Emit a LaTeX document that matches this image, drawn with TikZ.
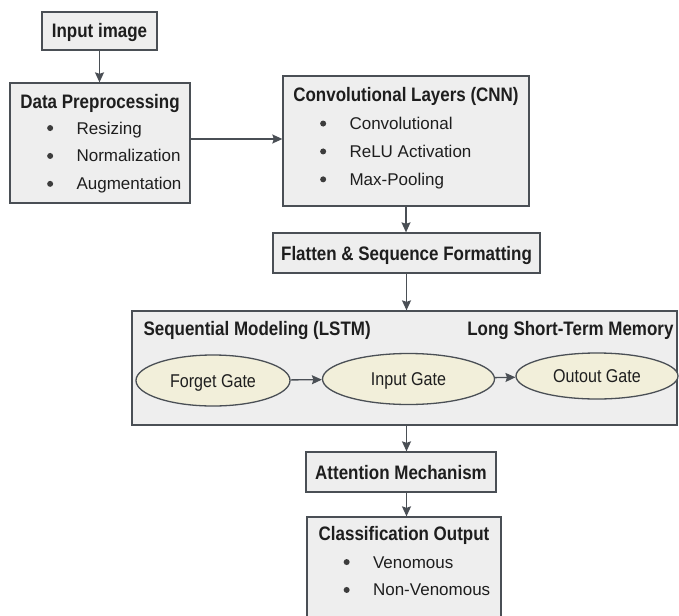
\documentclass[tikz,border=0pt]{standalone}
\usepackage{fontspec}
\setmainfont{Liberation Sans}
\newfontfamily\condfont[FakeStretch=0.87]{Liberation Sans}
\usetikzlibrary{shapes.geometric, arrows.meta, positioning, math, calc}

\definecolor{boxFill}{HTML}{EEEEEE}
\definecolor{gateFill}{HTML}{F2EFDA}
\definecolor{lineCol}{HTML}{4A4F55}
\definecolor{textCol}{HTML}{1E1E1E}
\definecolor{dotCol}{HTML}{3C3C3C}

\newcommand{\titleFont}{\condfont\bfseries\fontsize{19.5}{22}\selectfont}
\newcommand{\gateFont}{\condfont\fontsize{18.5}{21}\selectfont}
\newcommand{\itemFont}{\fontsize{17}{20}\selectfont}

\begin{document}
\begin{tikzpicture}[x=1pt, y=-1pt]
		\tikzmath{
			\lineW   = 1.3;  %border width
			\itemGap = 15.5; %gap between two bullet lines
			\dotGap  = 23;   %bullet to text
		}
		\tikzstyle{Base} = [
			draw=lineCol,
			line width=\lineW pt,
			inner sep=0pt,
			text=textCol
		]
		\tikzstyle{Box} = [
			Base,
			fill=boxFill,
			font=\titleFont,
			text height=14pt,
			text depth=0pt
		]
		\tikzstyle{Gate} = [
			Base,
			ellipse,
			fill=gateFill,
			font=\gateFont,
			text height=13pt,
			text depth=0pt
		]
		\tikzstyle{Title} = [
			inner sep=0pt,
			text=textCol,
			font=\titleFont,
			text height=14pt,
			text depth=0pt
		]
		\tikzstyle{Item} = [
			inner sep=0pt,
			text=textCol,
			font=\itemFont,
			text height=12pt,
			text depth=0pt
		]
		\tikzstyle{Dot} = [
			circle,
			fill=dotCol,
			minimum size=6pt,
			inner sep=0pt
		]
		\tikzstyle{Arrow} = [
			-{Stealth[length=10pt, width=9pt, inset=1.5pt]},
			draw=lineCol,
			line width=\lineW pt
		]

		\useasboundingbox (0,0) rectangle (679,615);
		\clip (0,0) rectangle (679,615);
		\fill [white] (0,0) rectangle (679,615);

		%%%%%%%%%%%%%%%%%%%%%%%%%%===---INPUT---===%%%%%%%%%%%%%%%%%%%%%%%%%%
		\node (in) [Box, minimum width=115pt, minimum height=38pt] at (99.5,31) {Input image};
		%%%%%%%%%%%%%%%%%%%%%%%%%%===---PREPROCESSING---===%%%%%%%%%%%%%%%%%%%%%%%%%%
		\node (prep) [Box, minimum width=180pt, minimum height=120pt] at (100,143) {};
			\node (prepT) [Title, below = 12pt of prep.north] {Data Preprocessing};
			\node (prep1) [Item, anchor=north west] at ($(prep.north west)+(67,39.5)$) {Resizing};
			\node (prep2) [Item, below = \itemGap pt of prep1.south west, anchor=north west] {Normalization};
			\node (prep3) [Item, below = \itemGap pt of prep2.south west, anchor=north west] {Augmentation};
			\node (prep1d) [Dot, left = \dotGap pt of prep1] {};
			\node (prep2d) [Dot, left = \dotGap pt of prep2] {};
			\node (prep3d) [Dot, left = \dotGap pt of prep3] {};
		\draw [Arrow] (in.south) -- (in.south |- prep.north);
		%%%%%%%%%%%%%%%%%%%%%%%%%%===---CNN---===%%%%%%%%%%%%%%%%%%%%%%%%%%
		\node (cnn) [Box, minimum width=246pt, minimum height=130pt] at (406,141) {};
			\node (cnnT) [Title, below = 12pt of cnn.north] {Convolutional Layers (CNN)};
			\node (cnn1) [Item, anchor=north west] at ($(cnn.north west)+(67,42)$) {Convolutional};
			\node (cnn2) [Item, below = \itemGap pt of cnn1.south west, anchor=north west] {ReLU Activation};
			\node (cnn3) [Item, below = \itemGap pt of cnn2.south west, anchor=north west] {Max-Pooling};
			\node (cnn1d) [Dot, left = \dotGap pt of cnn1] {};
			\node (cnn2d) [Dot, left = \dotGap pt of cnn2] {};
			\node (cnn3d) [Dot, left = \dotGap pt of cnn3] {};
		\draw [Arrow] ([yshift=4pt]prep.east) -- ([yshift=4pt]prep.east -| cnn.west);
		%%%%%%%%%%%%%%%%%%%%%%%%%%===---FLATTEN---===%%%%%%%%%%%%%%%%%%%%%%%%%%
		\node (flat) [Box, minimum width=267pt, minimum height=40pt] at (406.5,253) {Flatten \& Sequence Formatting};
		\draw [Arrow] (cnn.south) -- (cnn.south |- flat.north);
		%%%%%%%%%%%%%%%%%%%%%%%%%%===---LSTM---===%%%%%%%%%%%%%%%%%%%%%%%%%%
		\node (lstm) [Box, minimum width=545pt, minimum height=114pt] at (404.5,368) {};
			\node (lstmT) [Title, anchor=north west] at ($(lstm.north west)+(12,11)$) {Sequential Modeling (LSTM)};
			\node (lstmM) [Title, anchor=north east] at ($(lstm.north east)+(-4,11)$) {Long Short-Term Memory};
			\node (forget) [Gate, minimum width=154pt, minimum height=51pt] at (213,380.5) {Forget Gate};
			\node (input) [Gate, minimum width=172pt, minimum height=51pt] at (408.5,379) {Input Gate};
			\node (outout) [Gate, minimum width=162pt, minimum height=46pt] at (597,376) {Outout Gate};
		\draw [Arrow] (forget) -- (input);
		\draw [Arrow] (input) -- (outout);
		\draw [Arrow] (flat.south) -- (flat.south |- lstm.north);
		%%%%%%%%%%%%%%%%%%%%%%%%%%===---ATTENTION---===%%%%%%%%%%%%%%%%%%%%%%%%%%
		\node (att) [Box, minimum width=190pt, minimum height=40pt] at (401,472) {Attention Mechanism};
		\draw [Arrow] (lstm.south -| flat.south) -- (flat.south |- att.north);
		%%%%%%%%%%%%%%%%%%%%%%%%%%===---OUTPUT---===%%%%%%%%%%%%%%%%%%%%%%%%%%
		\node (cls) [Box, minimum width=194pt, minimum height=108pt] at (404,571) {};
			\node (clsT) [Title, below = 10pt of cls.north] {Classification Output};
			\node (cls1) [Item, anchor=north west] at ($(cls.north west)+(66.5,39.5)$) {Venomous};
			\node (cls2) [Item, below = \itemGap pt of cls1.south west, anchor=north west] {Non-Venomous};
			\node (cls1d) [Dot, left = \dotGap pt of cls1] {};
			\node (cls2d) [Dot, left = \dotGap pt of cls2] {};
		\draw [Arrow] (att.south -| flat.south) -- (flat.south |- cls.north);

	\end{tikzpicture}
\end{document}
